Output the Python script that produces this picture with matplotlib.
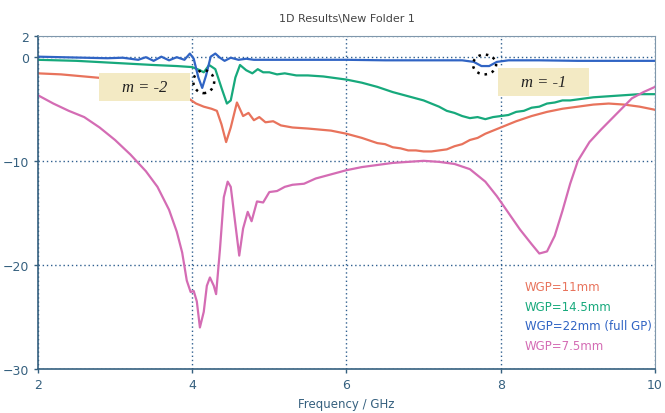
import matplotlib
matplotlib.use('Agg')
import matplotlib.pyplot as plt
from matplotlib.patches import Ellipse, Rectangle

# WGP = 22 mm (full ground plane)
f_22 = [2.0, 2.3, 2.6, 2.9, 3.1, 3.3, 3.4, 3.5, 3.6, 3.7, 3.8, 3.9, 3.97, 4.02, 4.08, 4.13,
        4.18, 4.24, 4.3, 4.36, 4.42, 4.5, 4.6, 4.7, 4.8, 5.0, 5.5, 6.0, 6.5, 7.0, 7.5, 7.65,
        7.75, 7.85, 7.95, 8.1, 8.5, 9.0, 9.5, 10.0]
s_22 = [0.0, -0.05, -0.1, -0.15, -0.1, -0.3, -0.05, -0.4, 0.0, -0.35, -0.05, -0.3, 0.3, -0.2,
        -2.0, -3.0, -1.8, 0.0, 0.3, -0.1, -0.4, -0.1, -0.3, -0.2, -0.3, -0.3, -0.3, -0.3, -0.35,
        -0.35, -0.35, -0.5, -0.9, -0.9, -0.5, -0.35, -0.35, -0.4, -0.4, -0.4]

# WGP = 14.5 mm
f_145 = [2.0, 2.5, 3.0, 3.5, 3.8, 4.0, 4.1, 4.15, 4.22, 4.3, 4.38, 4.45, 4.5, 4.56, 4.62, 4.7,
         4.78, 4.85, 4.92, 5.0, 5.1, 5.2, 5.35, 5.5, 5.7, 6.0, 6.2, 6.4, 6.6, 6.8, 7.0, 7.1,
         7.2, 7.3, 7.4, 7.5, 7.6, 7.7, 7.8, 7.9, 8.0, 8.1, 8.2, 8.3, 8.4, 8.5, 8.6, 8.7, 8.8,
         8.9, 9.0, 9.2, 9.4, 9.6, 9.8, 10.0]
s_145 = [-0.3, -0.4, -0.6, -0.8, -0.9, -1.0, -1.3, -1.5, -0.8, -1.2, -3.0, -4.5, -4.2, -2.0,
         -0.8, -1.3, -1.6, -1.2, -1.5, -1.5, -1.7, -1.6, -1.8, -1.8, -1.9, -2.2, -2.5, -2.9,
         -3.4, -3.8, -4.2, -4.5, -4.8, -5.2, -5.4, -5.7, -5.9, -5.8, -6.0, -5.8, -5.7, -5.6,
         -5.3, -5.2, -4.9, -4.8, -4.5, -4.4, -4.2, -4.2, -4.1, -3.9, -3.8, -3.7, -3.6, -3.6]

# WGP = 11 mm
f_11 = [2.0, 2.3, 2.6, 2.9, 3.2, 3.5, 3.8, 3.95, 4.05, 4.15, 4.25, 4.32, 4.38, 4.44, 4.5,
        4.58, 4.66, 4.73, 4.8, 4.87, 4.95, 5.05, 5.15, 5.3, 5.5, 5.8, 6.0, 6.2, 6.4, 6.5, 6.6,
        6.7, 6.8, 6.9, 7.0, 7.1, 7.2, 7.3, 7.4, 7.5, 7.6, 7.7, 7.8, 8.0, 8.2, 8.4, 8.6, 8.8,
        9.0, 9.2, 9.4, 9.6, 9.8, 10.0]
s_11 = [-1.6, -1.7, -1.9, -2.1, -2.6, -3.1, -3.6, -4.0, -4.5, -4.8, -5.0, -5.2, -6.5, -8.2,
        -6.8, -4.4, -5.7, -5.4, -6.1, -5.8, -6.3, -6.2, -6.6, -6.8, -6.9, -7.1, -7.4, -7.8,
        -8.3, -8.4, -8.7, -8.8, -9.0, -9.0, -9.1, -9.1, -9.0, -8.9, -8.6, -8.4, -8.0, -7.8,
        -7.4, -6.8, -6.2, -5.7, -5.3, -5.0, -4.8, -4.6, -4.5, -4.6, -4.8, -5.1]

# WGP = 7.5 mm
f_75 = [2.0, 2.2, 2.4, 2.6, 2.8, 3.0, 3.2, 3.4, 3.55, 3.7, 3.8, 3.87, 3.93, 3.98, 4.02, 4.06,
        4.1, 4.15, 4.19, 4.23, 4.28, 4.31, 4.36, 4.41, 4.46, 4.5, 4.55, 4.61, 4.66, 4.72, 4.77,
        4.84, 4.92, 5.0, 5.1, 5.2, 5.3, 5.45, 5.6, 5.8, 6.0, 6.2, 6.4, 6.6, 6.8, 7.0, 7.2,
        7.4, 7.6, 7.8, 7.95, 8.1, 8.25, 8.4, 8.5, 8.6, 8.7, 8.8, 8.9, 9.0, 9.15, 9.3, 9.5,
        9.7, 9.85, 10.0]
s_75 = [-3.7, -4.5, -5.2, -5.8, -6.8, -8.0, -9.4, -11.0, -12.5, -14.7, -16.8, -18.8, -21.5,
        -22.6, -22.5, -23.5, -26.0, -24.5, -22.0, -21.2, -22.0, -22.8, -18.5, -13.5, -12.0,
        -12.5, -15.5, -19.1, -16.5, -14.9, -15.8, -13.9, -14.0, -13.0, -12.9, -12.5, -12.3,
        -12.2, -11.7, -11.3, -10.9, -10.6, -10.4, -10.2, -10.1, -10.0, -10.1, -10.3, -10.8,
        -12.0, -13.4, -15.0, -16.6, -18.0, -18.9, -18.7, -17.2, -14.8, -12.2, -10.0, -8.2,
        -7.0, -5.5, -4.0, -3.4, -2.9]

labels = ['WGP=11mm', 'WGP=14.5mm', 'WGP=22mm (full GP)', 'WGP=7.5mm']
colors = ['#e8735c', '#17a97c', '#3064c4', '#d46cb4']

axis_col = '#35607f'

fig = plt.figure(figsize=(6.65, 4.14), dpi=100)
ax = fig.add_axes([0.057, 0.106, 0.928, 0.805])

for f, s, lab, c in zip([f_11, f_145, f_22, f_75], [s_11, s_145, s_22, s_75], labels, colors):
    ax.plot(f, s, color=c, lw=1.6, label=lab)

ax.set_xlim(2, 10)
ax.set_ylim(-30, 2)
ax.set_xticks([2, 4, 6, 8, 10])
ax.set_yticks([2, 0, -10, -20, -30])
ax.grid(True, color='#2f5f8f', lw=1, linestyle=(0, (1, 2)))
ax.tick_params(colors=axis_col, labelsize=9, length=3, width=1)
for sp in ['left', 'bottom']:
    ax.spines[sp].set_color(axis_col)
    ax.spines[sp].set_linewidth(1.2)
for sp in ['top', 'right']:
    ax.spines[sp].set_color('#7f97ab')
    ax.spines[sp].set_linewidth(0.8)

ax.set_title('1D Results\\New Folder 1', fontsize=8, color='#444444', pad=11)
ax.set_xlabel('Frequency / GHz', fontsize=8.5, color=axis_col, labelpad=4)

# mode labels
for x0, y0, txt in [(2.79, -4.3, 'm = -2'), (7.97, -3.8, 'm = -1')]:
    ax.add_patch(Rectangle((x0, y0), 1.18, 2.7, facecolor='#f3eac4', edgecolor='none', zorder=3))
    ax.text(x0 + 0.59, y0 + 1.35, txt, ha='center', va='center', fontsize=12,
            family='Liberation Serif', style='italic', color='#222222', zorder=4)

# dotted rings around the blue dips
for cx, cy, w, h in [(4.15, -2.4, 0.27, 2.2), (7.79, -0.75, 0.3, 1.9)]:
    ax.add_patch(Ellipse((cx, cy), w, h, fill=False, edgecolor='black', lw=1.8,
                         linestyle=(0, (1, 2)), zorder=5))

leg = ax.legend(loc='lower right', bbox_to_anchor=(1.012, 0.02), frameon=False,
                handlelength=0, handletextpad=0, labelcolor='linecolor', fontsize=8.5,
                labelspacing=0.55)
for h in leg.legend_handles:
    h.set_visible(False)

fig.savefig('out.png', dpi=100)
